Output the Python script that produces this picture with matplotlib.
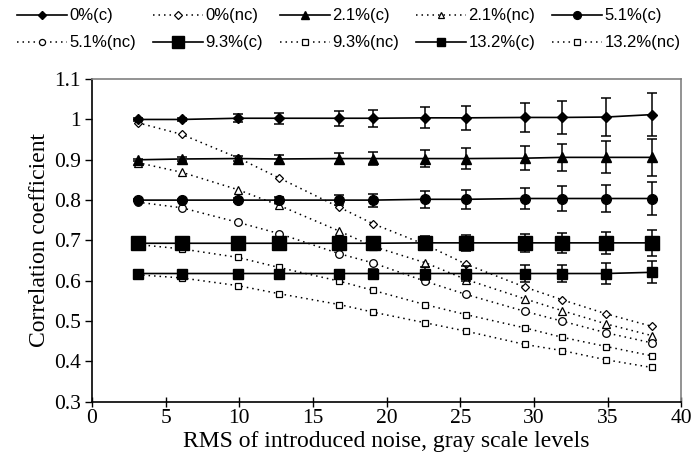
import matplotlib
matplotlib.use('Agg')
import matplotlib.pyplot as plt

# RMS noise levels (x)
rms = [3.1, 6.1, 9.9, 12.7, 16.8, 19.1, 22.6, 25.4, 29.4, 31.9, 34.9, 38.0]

# corrected (c) series and their error bars
c_0 = [1.0, 1.0, 1.003, 1.003, 1.003, 1.003, 1.004, 1.004, 1.005, 1.005, 1.006, 1.012]
c_21 = [0.9, 0.902, 0.903, 0.902, 0.903, 0.903, 0.903, 0.903, 0.904, 0.906, 0.906, 0.906]
c_51 = [0.8, 0.8, 0.8, 0.8, 0.8, 0.8, 0.802, 0.802, 0.804, 0.804, 0.804, 0.804]
c_93 = [0.693, 0.693, 0.693, 0.693, 0.693, 0.693, 0.694, 0.694, 0.694, 0.694, 0.694, 0.694]
c_132 = [0.618, 0.618, 0.618, 0.618, 0.618, 0.618, 0.618, 0.618, 0.618, 0.618, 0.618, 0.621]

err_0 = [0.003, 0.004, 0.01, 0.014, 0.018, 0.021, 0.026, 0.03, 0.036, 0.042, 0.048, 0.054]
err_21 = [0.002, 0.004, 0.006, 0.01, 0.014, 0.016, 0.022, 0.025, 0.03, 0.034, 0.04, 0.046]
err_51 = [0.002, 0.003, 0.005, 0.008, 0.013, 0.016, 0.021, 0.024, 0.026, 0.03, 0.034, 0.04]
err_93 = [0.002, 0.003, 0.004, 0.006, 0.01, 0.012, 0.017, 0.019, 0.022, 0.024, 0.028, 0.032]
err_132 = [0.002, 0.003, 0.004, 0.006, 0.009, 0.011, 0.016, 0.018, 0.022, 0.022, 0.025, 0.027]

# non-corrected (nc) series
nc_0 = [0.992, 0.963, 0.905, 0.855, 0.782, 0.741, 0.69, 0.641, 0.584, 0.553, 0.518, 0.487]
nc_21 = [0.893, 0.869, 0.826, 0.787, 0.723, 0.685, 0.645, 0.603, 0.555, 0.526, 0.493, 0.464]
nc_51 = [0.795, 0.781, 0.745, 0.717, 0.667, 0.644, 0.599, 0.566, 0.524, 0.5, 0.471, 0.446]
nc_93 = [0.69, 0.679, 0.658, 0.633, 0.599, 0.576, 0.541, 0.516, 0.483, 0.46, 0.437, 0.414]
nc_132 = [0.615, 0.607, 0.588, 0.568, 0.541, 0.522, 0.496, 0.475, 0.442, 0.427, 0.404, 0.385]

labels_c = ['0%(c)', '2.1%(c)', '5.1%(c)', '9.3%(c)', '13.2%(c)']
labels_nc = ['0%(nc)', '2.1%(nc)', '5.1%(nc)', '9.3%(nc)', '13.2%(nc)']

plt.rcParams['font.family'] = ['Liberation Serif', 'DejaVu Serif']

fig = plt.figure(figsize=(6.91, 4.71), dpi=100)
ax = fig.add_axes([0.133, 0.147, 0.853, 0.685])

c_series = [c_0, c_21, c_51, c_93, c_132]
c_errs = [err_0, err_21, err_51, err_93, err_132]
nc_series = [nc_0, nc_21, nc_51, nc_93, nc_132]
c_markers = [('D', 5), ('^', 7), ('o', 7), ('s', 10), ('s', 6.5)]
nc_markers = [('D', 4.5), ('^', 5.5), ('o', 5.5), ('s', 5), ('s', 5)]

h_c, h_nc = [], []
for i in range(5):
    m, ms = nc_markers[i]
    h, = ax.plot(rms, nc_series[i], color='black', linestyle=(0, (1, 2.6)), lw=1.1,
                 marker=m, markersize=ms, markerfacecolor='white',
                 markeredgecolor='black', markeredgewidth=0.9, label=labels_nc[i])
    h_nc.append(h)

for i in range(5):
    m, ms = c_markers[i]
    eb = ax.errorbar(rms, c_series[i], yerr=c_errs[i], color='black', lw=1.2,
                     marker=m, markersize=ms, markerfacecolor='black',
                     markeredgecolor='black', capsize=3.6, elinewidth=1.1,
                     capthick=1.1, label=labels_c[i])
    h_c.append(eb.lines[0])

ax.set_xlim(0, 40)
ax.set_ylim(0.3, 1.1)
ax.set_xticks(range(0, 41, 5))
ax.set_yticks([0.3, 0.4, 0.5, 0.6, 0.7, 0.8, 0.9, 1.0, 1.1])
ax.set_yticklabels(['0.3', '0.4', '0.5', '0.6', '0.7', '0.8', '0.9', '1', '1.1'])
ax.tick_params(axis='y', direction='out', length=5, width=1, labelsize=15.5, pad=3)
ax.tick_params(axis='x', direction='inout', length=7, width=1, labelsize=15.5, pad=2)
ax.set_xlabel('RMS of introduced noise, gray scale levels', fontsize=17, labelpad=2)
ax.set_ylabel('Correlation coefficient', fontsize=17, labelpad=3)

for s in ['left', 'bottom']:
    ax.spines[s].set_linewidth(1.2)
for s in ['top', 'right']:
    ax.spines[s].set_color('#808080')
    ax.spines[s].set_linewidth(1.2)

# legend is laid out row by row in the reference; matplotlib fills columns
items = []
for i in range(5):
    items.append((h_c[i], labels_c[i]))
    items.append((h_nc[i], labels_nc[i]))
order = [0, 5, 1, 6, 2, 7, 3, 8, 4, 9]
handles = [items[k][0] for k in order]
labels = [items[k][1] for k in order]
fig.legend(handles, labels, ncol=5, loc='upper left', bbox_to_anchor=(0.025, 0.982),
           frameon=False, prop={'family': 'Liberation Sans', 'size': 12},
           handlelength=3.0, handletextpad=0.15, columnspacing=1.0,
           labelspacing=0.72, borderaxespad=0, borderpad=0, markerscale=0.8)

fig.savefig('out.png', dpi=100)
